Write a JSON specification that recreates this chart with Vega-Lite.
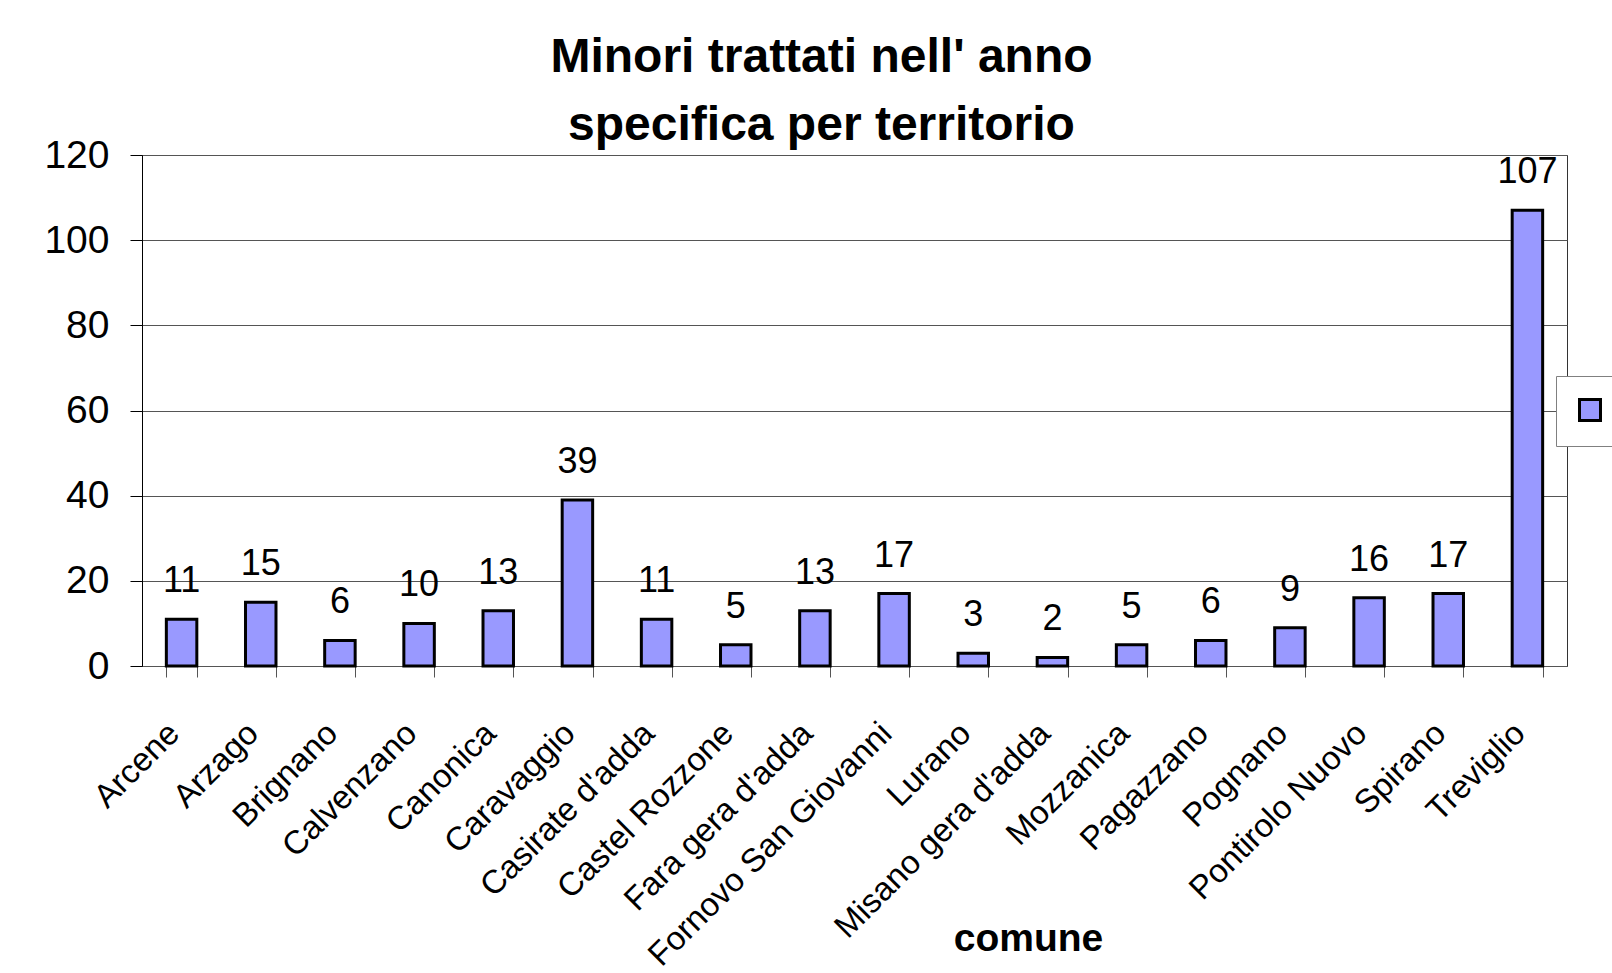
{
  "$schema": "https://vega.github.io/schema/vega-lite/v6.json",
  "width": 1425,
  "height": 511,
  "autosize": {"type": "none"},
  "padding": {"left": 142, "top": 155, "right": 45, "bottom": 307},
  "background": "white",
  "title": {
    "text": ["Minori trattati nell' anno", "specifica per territorio"],
    "font": "Liberation Sans",
    "fontWeight": "bold",
    "fontSize": 48,
    "lineHeight": 68,
    "anchor": "middle",
    "dx": -33,
    "dy": 27,
    "offset": 13,
    "color": "#000000"
  },
  "data": {
    "values": [
      {"comune": "Arcene", "minori": 11, "serie": " "},
      {"comune": "Arzago", "minori": 15, "serie": " "},
      {"comune": "Brignano", "minori": 6, "serie": " "},
      {"comune": "Calvenzano", "minori": 10, "serie": " "},
      {"comune": "Canonica", "minori": 13, "serie": " "},
      {"comune": "Caravaggio", "minori": 39, "serie": " "},
      {"comune": "Casirate d'adda", "minori": 11, "serie": " "},
      {"comune": "Castel Rozzone", "minori": 5, "serie": " "},
      {"comune": "Fara gera d'adda", "minori": 13, "serie": " "},
      {"comune": "Fornovo San Giovanni", "minori": 17, "serie": " "},
      {"comune": "Lurano", "minori": 3, "serie": " "},
      {"comune": "Misano gera d'adda", "minori": 2, "serie": " "},
      {"comune": "Mozzanica", "minori": 5, "serie": " "},
      {"comune": "Pagazzano", "minori": 6, "serie": " "},
      {"comune": "Pognano", "minori": 9, "serie": " "},
      {"comune": "Pontirolo Nuovo", "minori": 16, "serie": " "},
      {"comune": "Spirano", "minori": 17, "serie": " "},
      {"comune": "Treviglio", "minori": 107, "serie": " "}
    ]
  },
  "config": {
    "view": {"stroke": "#333333", "strokeWidth": 1},
    "font": "Liberation Sans"
  },
  "encoding": {
    "x": {
      "field": "comune",
      "type": "nominal",
      "sort": null,
      "scale": {"paddingInner": 0.615, "paddingOuter": 0.3075},
      "axis": {
        "title": "comune",
        "titleFont": "Liberation Sans",
        "titleFontSize": 39,
        "titleFontWeight": "bold",
        "titleColor": "#000000",
        "titleX": 886,
        "titleY": 284,
        "titleBaseline": "alphabetic",
        "labelAngle": -45,
        "labelAlign": "right",
        "labelBaseline": "middle",
        "labelFont": "Liberation Sans",
        "labelFontSize": 33,
        "labelColor": "#000000",
        "labelPadding": 51,
        "labelOffset": -8,
        "labelOverlap": false,
        "labelLimit": 0,
        "tickBand": "extent",
        "tickSize": 11,
        "tickColor": "#555555",
        "domainColor": "#555555",
        "grid": false
      }
    }
  },
  "layer": [
    {
      "mark": {"type": "bar", "stroke": "#000000", "strokeWidth": 3, "opacity": 1},
      "encoding": {
        "y": {
          "field": "minori",
          "type": "quantitative",
          "scale": {"domain": [0, 120], "nice": false},
          "axis": {
            "title": null,
            "values": [0, 20, 40, 60, 80, 100, 120],
            "tickSize": 12,
            "tickColor": "#000000",
            "domainColor": "#000000",
            "gridColor": "#555555",
            "gridOpacity": 1,
            "labelFont": "Liberation Sans",
            "labelFontSize": 39,
            "labelPadding": 21,
            "labelColor": "#000000"
          }
        },
        "color": {
          "field": "serie",
          "type": "nominal",
          "scale": {"range": ["#9999FF"]},
          "legend": {
            "title": null,
            "orient": "none",
            "legendX": 1414,
            "legendY": 221,
            "padding": 19,
            "strokeColor": "#808080",
            "fillColor": "#ffffff",
            "symbolType": "square",
            "symbolSize": 441,
            "symbolStrokeColor": "#000000",
            "symbolStrokeWidth": 3,
            "symbolOpacity": 1,
            "labelFontSize": 30
          }
        }
      }
    },
    {
      "mark": {"type": "text", "dy": -27, "baseline": "alphabetic", "fontSize": 36, "font": "Liberation Sans", "color": "#000000"},
      "encoding": {
        "y": {"field": "minori", "type": "quantitative"},
        "text": {"field": "minori", "type": "quantitative"}
      }
    }
  ]
}
